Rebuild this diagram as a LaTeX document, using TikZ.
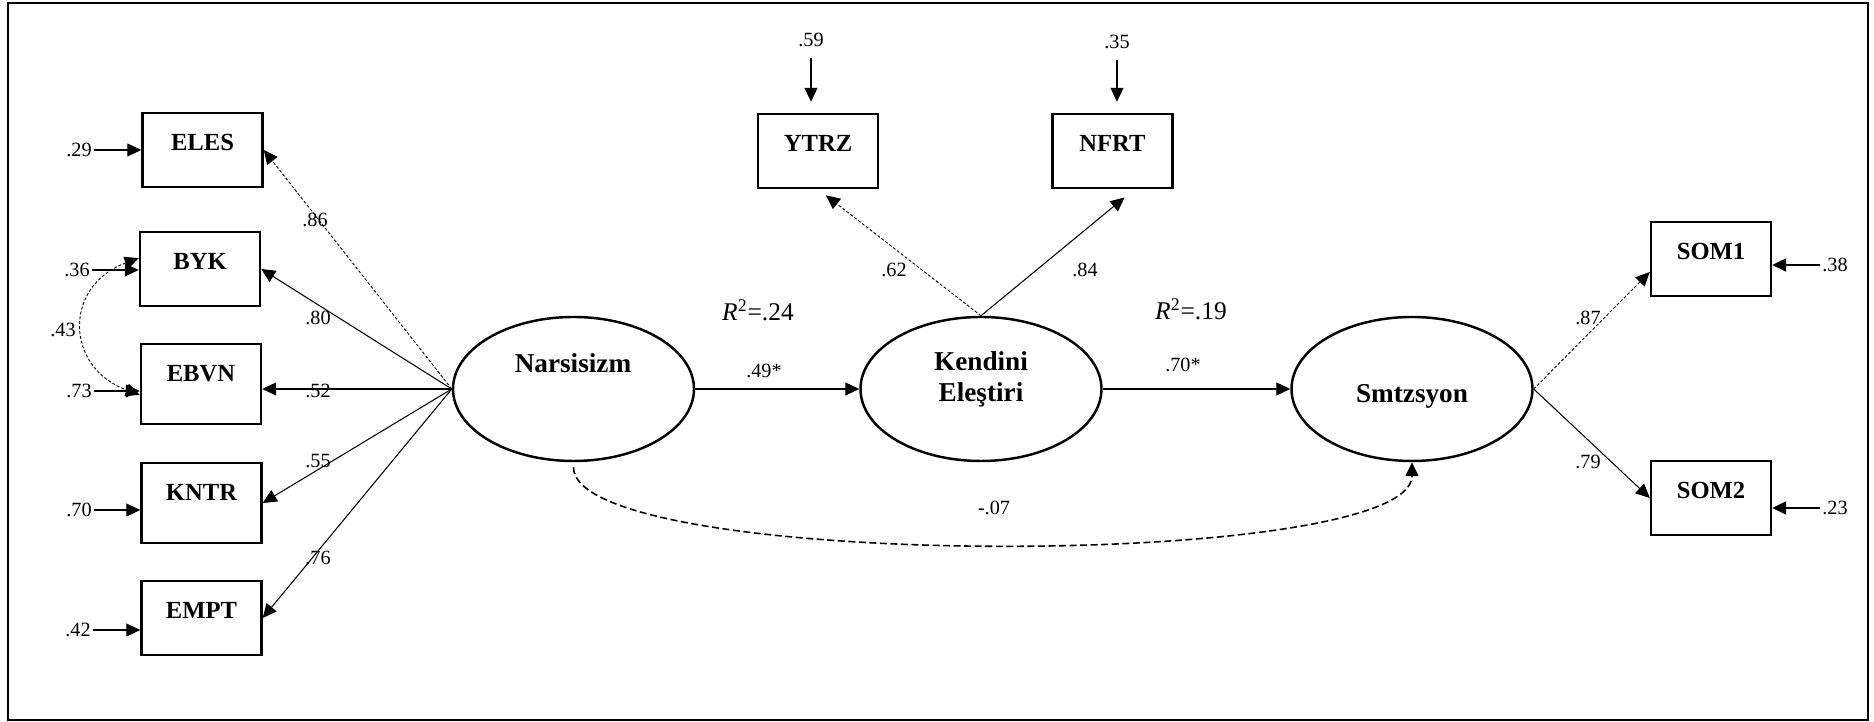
\documentclass[tikz,border=0pt]{standalone}
\usepackage{fontspec}
\setmainfont{Liberation Serif}
\usetikzlibrary{arrows.meta,shapes.geometric}

\tikzset{
  obsvar/.style={draw, line width=1.4pt, minimum width=2.4cm, inner sep=0pt,
    text height=0.76cm, text depth=0.72cm, font=\fontsize{14}{16}\selectfont\bfseries},
  tallvar/.style={obsvar, text depth=0.84cm},
  latvar/.style={draw, ellipse, line width=1.4pt, minimum width=4.82cm,
    minimum height=2.88cm, inner sep=0pt},
  lattext/.style={font=\fontsize{15.5}{17.6}\selectfont\bfseries, align=center, inner sep=0pt},
  coef/.style={font=\fontsize{11.5}{13}\selectfont, inner sep=1pt},
  rsq/.style={font=\fontsize{14.5}{16}\selectfont, inner sep=1pt},
  arr/.style={line width=0.6pt, -{Triangle[length=0.28cm,width=0.26cm]}},
  fixarr/.style={arr, line width=0.5pt, dash pattern=on 1.7pt off 1.1pt},
  errbold/.style={arr, line width=1.3pt},
  covarr/.style={line width=0.9pt, dash pattern=on 4pt off 2pt,
    -{Triangle[length=0.28cm,width=0.26cm]}}
}

\begin{document}
\begin{tikzpicture}[scale=2]
  \useasboundingbox (0,0) rectangle (18.74,7.22);
  % Frame
  \draw[line width=1.6pt] (0.08,0.02) rectangle (18.68,7.19);

  % Observed variables
  \node[obsvar] (eles) at (2.025,5.72) {ELES};
  \node[obsvar] (byk) at (2.00,4.53) {BYK};
  \node[tallvar] (ebvn) at (2.01,3.38) {EBVN};
  \node[tallvar] (kntr) at (2.015,2.19) {KNTR};
  \node[obsvar] (empt) at (2.015,1.04) {EMPT};
  \node[obsvar] (ytrz) at (8.18,5.71) {YTRZ};
  \node[obsvar] (nfrt) at (11.125,5.71) {NFRT};
  \node[obsvar] (som1) at (17.11,4.63) {SOM1};
  \node[obsvar] (som2) at (17.11,2.24) {SOM2};

  % Latent variables
  \node[latvar] (nar) at (5.735,3.33) {};
  \node[latvar] (ken) at (9.81,3.33) {};
  \node[latvar] (smtz) at (14.12,3.33) {};
  \node[lattext] (nartxt) at (5.73,3.59) {Narsisizm};
  \node[lattext] (kentxt) at (9.81,3.43) {Kendini\\Eleştiri};
  \node[lattext] (smtztxt) at (14.12,3.255) {Smtzsyon};

  % Error terms
  \node[coef] (e29) at (0.79,5.72) {.29};
  \node[coef] (e36) at (0.77,4.52) {.36};
  \node[coef] (e73) at (0.79,3.31) {.73};
  \node[coef] (e70) at (0.79,2.12) {.70};
  \node[coef] (e42) at (0.78,0.92) {.42};
  \node[coef] (e59) at (8.11,6.82) {.59};
  \node[coef] (e35) at (11.17,6.80) {.35};
  \node[coef] (e38) at (18.35,4.57) {.38};
  \node[coef] (e23) at (18.35,2.14) {.23};
  \draw[arr] (e29.east) -- (e29 -| eles.west);
  \draw[arr] (e36.east) -- (e36 -| byk.west);
  \draw[arr] (e73.east) -- (e73 -| ebvn.west);
  \draw[arr] (e70.east) -- (e70 -| kntr.west);
  \draw[arr] (e42.east) -- (e42 -| empt.west);
  \draw[arr, shorten <=0.18cm, shorten >=0.22cm] (e59.south) -- (e59.south |- ytrz.north);
  \draw[arr, shorten <=0.18cm, shorten >=0.22cm] (e35.south) -- (e35.south |- nfrt.north);
  \draw[errbold] (e38.west) -- (e38 -| som1.east);
  \draw[errbold] (e23.west) -- (e23 -| som2.east);

  % Loadings
  \draw[fixarr] (nar.west) -- (eles.east);
  \draw[arr] (nar.west) -- (byk.east);
  \draw[arr] (nar.west) -- (nar.west -| ebvn.east);
  \draw[arr] (nar.west) -- (kntr.east);
  \draw[arr] (nar.west) -- (empt.east);
  \draw[fixarr, shorten >=0.2cm] (ken.north) -- (ytrz.south);
  \draw[arr, shorten >=0.26cm] (ken.north) -- (nfrt.-60);
  \draw[fixarr] (smtz.east) -- (som1.192);
  \draw[arr] (smtz.east) -- (som2.west);
  \node[coef] (l86) at (3.15,5.02) {.86};
  \node[coef] (l80) at (3.18,4.04) {.80};
  \node[coef] (l52) at (3.18,3.31) {.52};
  \node[coef] (l55) at (3.18,2.61) {.55};
  \node[coef] (l76) at (3.18,1.64) {.76};
  \node[coef] (l62) at (8.94,4.52) {.62};
  \node[coef] (l84) at (10.85,4.52) {.84};
  \node[coef] (l87) at (15.88,4.04) {.87};
  \node[coef] (l79) at (15.88,2.60) {.79};

  % Structural paths
  \draw[arr] (nar.east) -- (ken.west);
  \draw[arr] (ken.east) -- (smtz.west);
  \node[coef] (b49) at (7.64,3.51) {.49*};
  \node[coef] (b70) at (11.83,3.57) {.70*};
  \node[rsq] (r24) at (7.58,4.12) {\textit{R}\textsuperscript{2}=.24};
  \node[rsq] (r19) at (11.91,4.13) {\textit{R}\textsuperscript{2}=.19};

  % Covariances
  \draw[line width=0.5pt, dash pattern=on 1.7pt off 1.1pt,
    {Triangle[length=0.28cm,width=0.26cm]}-{Triangle[length=0.28cm,width=0.26cm]}]
    (byk.170) to[out=200, in=160, looseness=1.5] (ebvn.190);
  \node[coef] (c43) at (0.63,3.92) {.43};
  \draw[covarr, shorten <=0.1cm] (nar.south) .. controls +(0,-1.09) and +(0,-1.09) .. (smtz.south);
  \node[coef] (c07) at (9.94,2.14) {-.07};
\end{tikzpicture}
\end{document}
